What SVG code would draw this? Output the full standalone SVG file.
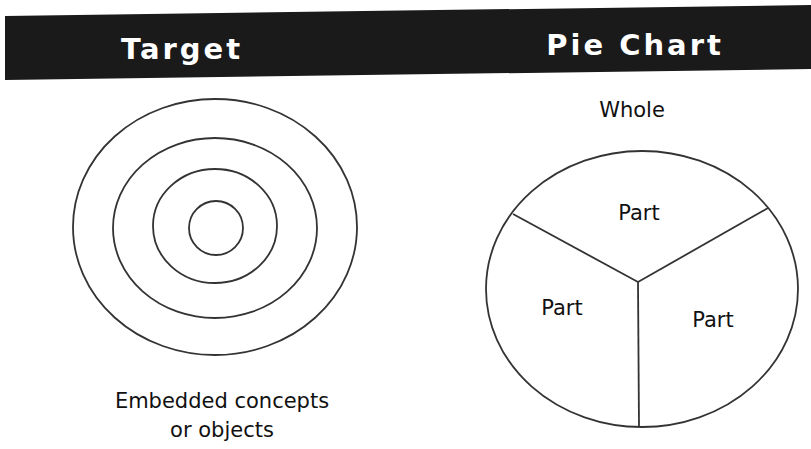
<svg xmlns="http://www.w3.org/2000/svg" width="811" height="449" viewBox="0 0 811 449">
<style>
.ring{fill:none;stroke:#333;stroke-width:1.8}
.seg{fill:none;stroke:#333;stroke-width:1.8}
.lbl{font-family:"DejaVu Sans","Liberation Sans",sans-serif;font-size:21px;fill:#111;text-anchor:middle}
.ttl{font-family:"DejaVu Sans","Liberation Sans",sans-serif;font-weight:bold;font-size:29px;fill:#fff;text-anchor:middle;letter-spacing:3px}
</style>
<rect width="811" height="449" fill="#fff"/>
<g id="header">
<polygon points="5,16 811,5 811,69 5,80" fill="#1a1a1a"/>
<text class="ttl" x="182" y="59">Target</text>
<text class="ttl" x="635" y="55">Pie Chart</text>
</g>
<g id="target">
<ellipse class="ring" cx="215" cy="227" rx="142" ry="128"/>
<ellipse class="ring" cx="215" cy="228" rx="102" ry="90"/>
<ellipse class="ring" cx="215" cy="226" rx="62" ry="57"/>
<ellipse class="ring" cx="216" cy="228" rx="27" ry="27"/>
<text class="lbl" x="222" y="408">Embedded concepts</text>
<text class="lbl" x="222" y="437">or objects</text>
</g>
<g id="pie">
<text class="lbl" x="632" y="117">Whole</text>
<ellipse class="ring" cx="642" cy="289" rx="156" ry="138"/>
<g id="connectors">
<line class="seg" x1="638" y1="282" x2="513" y2="214"/>
<line class="seg" x1="638" y1="282" x2="768" y2="208"/>
<line class="seg" x1="638" y1="282" x2="639" y2="427"/>
</g>
<text class="lbl" x="639" y="220">Part</text>
<text class="lbl" x="562" y="315">Part</text>
<text class="lbl" x="713" y="327">Part</text>
</g>
</svg>
